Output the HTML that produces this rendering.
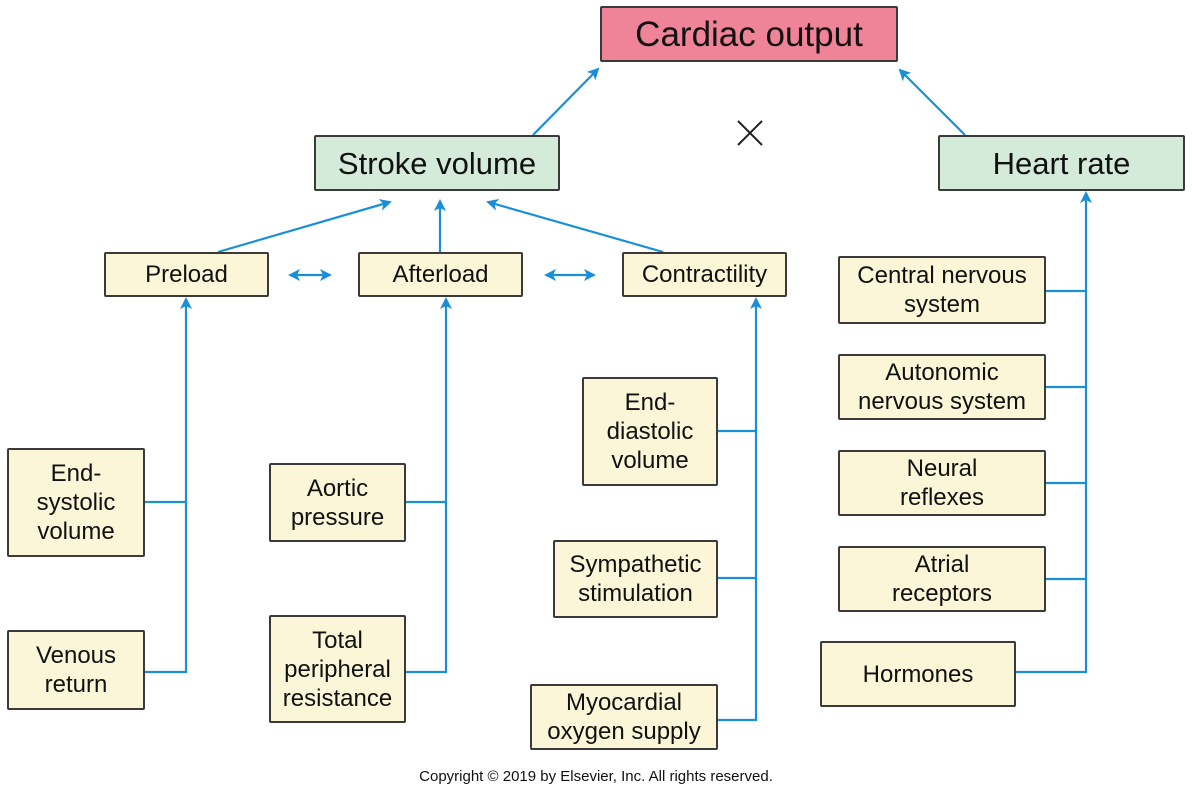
<!DOCTYPE html>
<html><head><style>
body{margin:0;background:#fff;}
.wrap{position:relative;width:1192px;height:796px;font-family:"Liberation Sans",sans-serif;color:#111;}
.b{position:absolute;box-sizing:border-box;border:2px solid #3a3a3a;border-radius:2px;background:#fcf6d8;display:flex;align-items:center;justify-content:center;text-align:center;font-size:24px;line-height:29px;}
.g{background:#d5ebd9;font-size:31px;}
.p{background:#ef8397;font-size:35px;}
svg{position:absolute;left:0;top:0;}
</style></head><body><div class="wrap">
<svg width="1192" height="796">
<defs><marker id="a" markerWidth="12" markerHeight="12" refX="10" refY="6" orient="auto-start-reverse" markerUnits="userSpaceOnUse"><path d="M0,0 L12,6 L0,12 L3,6 z" fill="#1a8fd8"/></marker></defs>
<g stroke="#1a8fd8" stroke-width="2.2" fill="none">
<line x1="533" y1="135" x2="598" y2="69" marker-end="url(#a)"/>
<line x1="965" y1="135" x2="900" y2="70" marker-end="url(#a)"/>
<line x1="218" y1="252" x2="390" y2="202" marker-end="url(#a)"/>
<line x1="440" y1="252" x2="440" y2="201" marker-end="url(#a)"/>
<line x1="663" y1="252" x2="488" y2="202" marker-end="url(#a)"/>
<line x1="290" y1="275" x2="330" y2="275" marker-end="url(#a)" marker-start="url(#a)"/>
<line x1="546" y1="275" x2="594" y2="275" marker-end="url(#a)" marker-start="url(#a)"/>
<polyline points="145,502 186,502"/><polyline points="145,672 186,672 186,299" marker-end="url(#a)"/>
<polyline points="406,502 446,502"/><polyline points="406,672 446,672 446,299" marker-end="url(#a)"/>
<polyline points="718,431 756,431"/><polyline points="718,578 756,578"/><polyline points="718,720 756,720 756,299" marker-end="url(#a)"/>
<polyline points="1046,291 1086,291"/><polyline points="1046,387 1086,387"/><polyline points="1046,483 1086,483"/><polyline points="1046,579 1086,579"/>
<polyline points="1016,672 1086,672 1086,193" marker-end="url(#a)"/>
</g>
<g stroke="#222" stroke-width="2"><line x1="738" y1="121" x2="762" y2="145"/><line x1="762" y1="121" x2="738" y2="145"/></g>
</svg>
<div class="b p" style="left:600px;top:6px;width:298px;height:56px">Cardiac output</div>
<div class="b g" style="left:314px;top:135px;width:246px;height:56px">Stroke volume</div>
<div class="b g" style="left:938px;top:135px;width:247px;height:56px">Heart rate</div>
<div class="b" style="left:104px;top:252px;width:165px;height:45px">Preload</div>
<div class="b" style="left:358px;top:252px;width:165px;height:45px">Afterload</div>
<div class="b" style="left:622px;top:252px;width:165px;height:45px">Contractility</div>
<div class="b" style="left:7px;top:448px;width:138px;height:109px">End-<br>systolic<br>volume</div>
<div class="b" style="left:7px;top:630px;width:138px;height:80px">Venous<br>return</div>
<div class="b" style="left:269px;top:463px;width:137px;height:79px">Aortic<br>pressure</div>
<div class="b" style="left:269px;top:615px;width:137px;height:108px">Total<br>peripheral<br>resistance</div>
<div class="b" style="left:582px;top:377px;width:136px;height:109px">End-<br>diastolic<br>volume</div>
<div class="b" style="left:553px;top:540px;width:165px;height:78px">Sympathetic<br>stimulation</div>
<div class="b" style="left:530px;top:684px;width:188px;height:66px">Myocardial<br>oxygen supply</div>
<div class="b" style="left:838px;top:256px;width:208px;height:68px">Central nervous<br>system</div>
<div class="b" style="left:838px;top:354px;width:208px;height:66px">Autonomic<br>nervous system</div>
<div class="b" style="left:838px;top:450px;width:208px;height:66px">Neural<br>reflexes</div>
<div class="b" style="left:838px;top:546px;width:208px;height:66px">Atrial<br>receptors</div>
<div class="b" style="left:820px;top:641px;width:196px;height:66px">Hormones</div>
<div style="position:absolute;left:0;width:1192px;top:768px;text-align:center;font-size:15px;">Copyright © 2019 by Elsevier, Inc. All rights reserved.</div>
</div></body></html>
